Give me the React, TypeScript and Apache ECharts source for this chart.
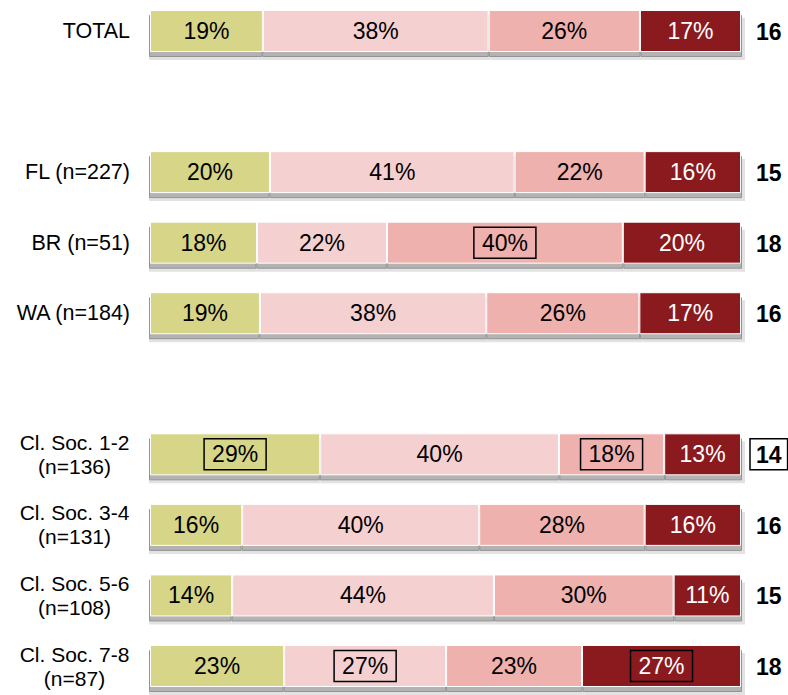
import React, { useEffect, useRef } from "react";
import * as echarts from "echarts";

const categories = [
  "TOTAL",
  " ",
  "FL (n=227)",
  "BR (n=51)",
  "WA (n=184)",
  "  ",
  "Cl. Soc. 1-2\n(n=136)",
  "Cl. Soc. 3-4\n(n=131)",
  "Cl. Soc. 5-6\n(n=108)",
  "Cl. Soc. 7-8\n(n=87)",
];
const seg1 = [19.1, null, 20.3, 18.1, 18.6, null, 28.8, 15.6, 13.9, 22.7];
const seg2 = [38.2, null, 41.4, 22.0, 38.3, null, 40.4, 40.1, 44.3, 27.4];
const seg3 = [25.6, null, 22.0, 39.9, 25.9, null, 17.8, 28.0, 30.4, 23.0];
const seg4 = [17.1, null, 16.3, 20.0, 17.2, null, 13.0, 16.3, 11.4, 26.9];
const scores = [16, null, 15, 18, 16, null, 14, 16, 15, 18];
const boxedSeg1 = [6];
const boxedSeg2 = [9];
const boxedSeg3 = [3, 6];
const boxedSeg4 = [9];
const boxedScores = [6];

const colors = ["#D6D588", "#F5D0D0", "#EEB1AE", "#8B1A1F"];
const FONT = "'Liberation Sans', Arial, sans-serif";

export default function App() {
  const ref = useRef<HTMLDivElement>(null);
  useEffect(() => {
    if (!ref.current) return;
    const chart = echarts.init(ref.current, undefined, { renderer: "svg" });
    const segs = [seg1, seg2, seg3, seg4];
    const boxes = [boxedSeg1, boxedSeg2, boxedSeg3, boxedSeg4];

    const mainSeries = segs.map((arr, si) => ({
      type: "bar",
      stack: "main",
      xAxisIndex: 0,
      yAxisIndex: 0,
      barWidth: 42,
      clip: false,
      z: 3,
      data: arr.map((v, i) =>
        v == null
          ? null
          : {
              value: v,
              label: boxes[si].includes(i)
                ? { borderColor: "#000", borderWidth: 1.5 }
                : {},
            }
      ),
      itemStyle: {
        color: colors[si],
        borderColor: "#ffffff",
        borderWidth: 1,
      },
      label: {
        show: true,
        position: "inside",
        formatter: (p: any) => Math.round(p.value) + "%",
        color: si === 3 ? "#ffffff" : "#000000",
        fontSize: 23,
        fontFamily: FONT,
        padding: [5, 8, 3, 8],
        borderColor: "transparent",
        borderWidth: 1.5,
      },
    }));

    const darkShadow = segs.map((arr) => ({
      type: "bar",
      stack: "shadowDark",
      xAxisIndex: 1,
      yAxisIndex: 2,
      barWidth: 42,
      clip: false,
      silent: true,
      z: 2,
      data: arr,
      itemStyle: {
        color: "#b3b3b3",
        borderColor: "#949494",
        borderWidth: 1,
      },
    }));

    const lightShadow = segs.map((arr) => ({
      type: "bar",
      stack: "shadowLight",
      xAxisIndex: 2,
      yAxisIndex: 3,
      barWidth: 42,
      clip: false,
      silent: true,
      z: 1,
      data: arr,
      itemStyle: { color: "#e2e2e2" },
    }));

    const hiddenCat = (gridIndex: number) => ({
      type: "category",
      gridIndex,
      data: categories,
      inverse: true,
      boundaryGap: false,
      show: false,
    });

    chart.setOption({
      animation: false,
      grid: [
        { left: 150, right: 47, top: 31, bottom: 29, outerBoundsMode: "none", containLabel: false },
        { left: 149, right: 46, top: 36, bottom: 24, outerBoundsMode: "none", containLabel: false },
        { left: 149, right: 43, top: 39, bottom: 21, outerBoundsMode: "none", containLabel: false },
      ],
      xAxis: [
        { type: "value", gridIndex: 0, min: 0, max: 100, show: false },
        { type: "value", gridIndex: 1, min: 0, max: 100, show: false },
        { type: "value", gridIndex: 2, min: 0, max: 100, show: false },
      ],
      yAxis: [
        {
          type: "category",
          gridIndex: 0,
          data: categories,
          inverse: true,
          boundaryGap: false,
          axisLine: { show: false },
          axisTick: { show: false },
          splitLine: { show: false },
          axisLabel: {
            interval: 0,
            margin: 20,
            color: "#000",
            fontSize: 21.5,
            fontFamily: FONT,
            align: "right",
            formatter: (v: string) =>
              v.includes("\n")
                ? v
                    .split("\n")
                    .map((l) => `{c|${l}}`)
                    .join("\n")
                : v,
            rich: {
              c: {
                width: 111,
                align: "center",
                fontSize: 21,
                lineHeight: 24,
                fontFamily: FONT,
                color: "#000",
              },
            },
          },
        },
        {
          type: "category",
          gridIndex: 0,
          data: categories,
          inverse: true,
          position: "right",
          boundaryGap: false,
          axisLine: { show: false },
          axisTick: { show: false },
          splitLine: { show: false },
          axisLabel: {
            interval: 0,
            margin: 9,
            align: "left",
            formatter: (_v: string, idx: number) =>
              scores[idx] == null
                ? ""
                : boxedScores.includes(idx)
                ? `{b|${scores[idx]}}`
                : `{n|${scores[idx]}}`,
            rich: {
              n: {
                fontSize: 23,
                fontWeight: "bold",
                fontFamily: FONT,
                color: "#000",
                padding: [5, 6, 3, 6],
                borderColor: "transparent",
                borderWidth: 1.5,
              },
              b: {
                fontSize: 23,
                fontWeight: "bold",
                fontFamily: FONT,
                color: "#000",
                padding: [5, 6, 3, 6],
                borderColor: "#000",
                borderWidth: 1.5,
              },
            },
          },
        },
        hiddenCat(1),
        hiddenCat(2),
      ],
      series: [...lightShadow, ...darkShadow, ...mainSeries],
    });
    return () => chart.dispose();
  }, []);
  return (
    <div
      ref={ref}
      style={{ position: "absolute", left: 0, top: 0, width: 788, height: 695 }}
    />
  );
}
